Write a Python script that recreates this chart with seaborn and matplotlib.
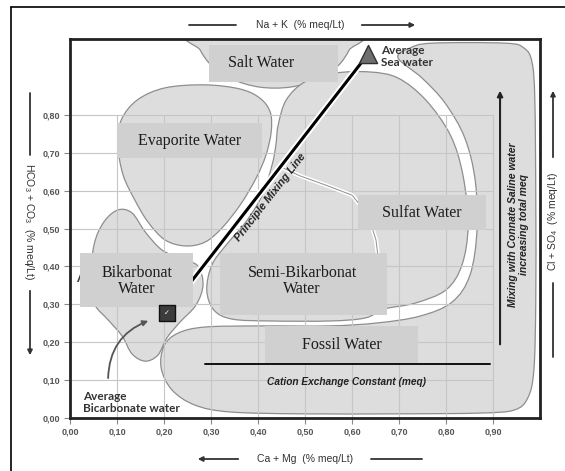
import numpy as np
import pandas as pd
import matplotlib
matplotlib.use("Agg")
import matplotlib.pyplot as plt
import seaborn as sns
from matplotlib.path import Path
from matplotlib.patches import PathPatch, Rectangle
from matplotlib.lines import Line2D

# axis ticks (fraction of meq)
x_ticks = [0.0, 0.1, 0.2, 0.3, 0.4, 0.5, 0.6, 0.7, 0.8, 0.9]
y_ticks = [0.0, 0.1, 0.2, 0.3, 0.4, 0.5, 0.6, 0.7, 0.8]
x_tick_labels = ["0,00", "0,10", "0,20", "0,30", "0,40", "0,50", "0,60", "0,70", "0,80", "0,90"]
y_tick_labels = ["0,00", "0,10", "0,20", "0,30", "0,40", "0,50", "0,60", "0,70", "0,80"]

# outlines of the water type fields
salt_x = [0.268, 0.277, 0.302, 0.345, 0.404, 0.468, 0.528, 0.570, 0.594, 0.604]
salt_y = [1.011, 0.971, 0.929, 0.894, 0.873, 0.873, 0.894, 0.929, 0.971, 1.011]

evap_x = [0.102, 0.109, 0.143, 0.202, 0.287, 0.362, 0.404, 0.426, 0.428, 0.417,
          0.396, 0.362, 0.323, 0.287, 0.245, 0.202, 0.166, 0.138, 0.113]
evap_y = [0.720, 0.786, 0.839, 0.871, 0.879, 0.868, 0.844, 0.807, 0.755, 0.694,
          0.633, 0.562, 0.501, 0.464, 0.454, 0.470, 0.517, 0.575, 0.641]

central_x = [0.443, 0.460, 0.500, 0.564, 0.638, 0.698, 0.757, 0.809, 0.836, 0.847,
             0.834, 0.800, 0.734, 0.670, 0.628, 0.553, 0.426, 0.345, 0.306, 0.291,
             0.302, 0.332, 0.374, 0.409, 0.430, 0.438]
central_y = [0.773, 0.839, 0.887, 0.910, 0.913, 0.897, 0.839, 0.747, 0.641, 0.509,
             0.404, 0.338, 0.303, 0.288, 0.264, 0.256, 0.256, 0.261, 0.285, 0.338,
             0.404, 0.456, 0.517, 0.588, 0.668, 0.720]

bicarb_x = [0.043, 0.051, 0.072, 0.102, 0.132, 0.160, 0.196, 0.238, 0.272, 0.283,
            0.268, 0.234, 0.206, 0.187, 0.160, 0.132, 0.111, 0.081, 0.053]
bicarb_y = [0.351, 0.456, 0.517, 0.549, 0.541, 0.491, 0.443, 0.420, 0.401, 0.351,
            0.298, 0.253, 0.211, 0.166, 0.150, 0.169, 0.216, 0.259, 0.298]

connate_x = [0.698, 0.723, 0.770, 0.926, 0.966, 0.983, 0.989, 0.991, 0.991, 0.987,
             0.974, 0.945, 0.872, 0.702, 0.489, 0.340, 0.266, 0.217, 0.194, 0.200,
             0.230, 0.287, 0.404, 0.553, 0.655, 0.745, 0.813, 0.851, 0.866, 0.862,
             0.840, 0.798, 0.749]
connate_y = [0.950, 0.976, 0.989, 0.989, 0.976, 0.939, 0.839, 0.575, 0.311, 0.127,
             0.053, 0.021, 0.013, 0.011, 0.011, 0.016, 0.034, 0.074, 0.132, 0.190,
             0.224, 0.240, 0.243, 0.243, 0.251, 0.269, 0.306, 0.377, 0.496, 0.628,
             0.739, 0.831, 0.897]

# partial divide between sulfat and semi-bikarbonat fields
sep_x = [0.453, 0.489, 0.543, 0.600, 0.634, 0.651, 0.655]
sep_y = [0.660, 0.639, 0.615, 0.588, 0.536, 0.470, 0.430]

# principle mixing line: average bicarbonate water -> average sea water
mix_x = [0.206, 0.634]
mix_y = [0.277, 0.960]

# cation exchange constant line
cec_x = [0.287, 0.894]
cec_y = [0.142, 0.142]

# label boxes
box_labels = ["Salt Water", "Evaporite Water", "Sulfat Water", "Bikarbonat\nWater",
              "Semi-Bikarbonat\nWater", "Fossil Water"]
box_x0 = [0.296, 0.100, 0.613, 0.021, 0.319, 0.415]
box_x1 = [0.570, 0.409, 0.885, 0.262, 0.674, 0.740]
box_y0 = [0.887, 0.686, 0.496, 0.293, 0.272, 0.145]
box_y1 = [0.984, 0.778, 0.588, 0.435, 0.435, 0.243]
label_x = [0.406, 0.255, 0.749, 0.143, 0.494, 0.579]
label_y = [0.937, 0.732, 0.541, 0.361, 0.361, 0.193]


def smooth_outline(xs, ys):
    # closed curve through the points, drawn by matplotlib as cubic beziers
    p = np.column_stack([xs, ys])
    n = len(p)
    verts = [p[0]]
    codes = [Path.MOVETO]
    for i in range(n):
        p0, p1, p2, p3 = p[i - 1], p[i], p[(i + 1) % n], p[(i + 2) % n]
        verts += [p1 + (p2 - p0) / 6, p2 - (p3 - p1) / 6, p2]
        codes += [Path.CURVE4] * 3
    verts.append(p[0])
    codes.append(Path.CLOSEPOLY)
    return Path(verts, codes)


sns.set_theme(style="white")
plt.rcParams["font.family"] = ["Liberation Sans", "DejaVu Sans"]
plt.rcParams["mathtext.fontset"] = "custom"
plt.rcParams["mathtext.rm"] = "Liberation Sans"

W, H = 565, 471
fig = plt.figure(figsize=(W / 100, H / 100), dpi=100)
ax = fig.add_axes([70 / W, 53 / H, 470 / W, 379 / H])
ax.set_xlim(0, 1)
ax.set_ylim(0, 1)

fill = "#dddddd"
edge = "#8e8e8e"
for xs, ys in [(salt_x, salt_y), (evap_x, evap_y), (central_x, central_y),
               (bicarb_x, bicarb_y), (connate_x, connate_y)]:
    ax.add_patch(PathPatch(smooth_outline(xs, ys), facecolor=fill, edgecolor=edge,
                           lw=0.9, zorder=1))

# grid over the fields
ax.vlines(x_ticks[1:], 0, 0.8, color="#c6c6c6", lw=0.8, zorder=1.5)
ax.hlines(y_ticks[1:], 0, 0.9, color="#c6c6c6", lw=0.8, zorder=1.5)

ax.plot(sep_x, sep_y, color="white", lw=3, zorder=1.6, solid_capstyle="round")
ax.plot(sep_x, sep_y, color=edge, lw=0.7, zorder=1.7)

# principle mixing line
sns.lineplot(x=mix_x, y=mix_y, ax=ax, color="white", lw=5, zorder=2.4)
sns.lineplot(x=mix_x, y=mix_y, ax=ax, color="black", lw=2.2, zorder=2.5)

ax.text(0.013, 0.37, "A", fontfamily="Lato", fontweight="bold", fontsize=10,
        color="#444", ha="left", va="center", zorder=2)

# label boxes
for name, x0, x1, y0, y1, tx, ty in zip(box_labels, box_x0, box_x1, box_y0, box_y1,
                                        label_x, label_y):
    ax.add_patch(Rectangle((x0, y0), x1 - x0, y1 - y0, facecolor="#d0d0d0",
                           edgecolor="none", zorder=3))
    ax.text(tx, ty, name, fontfamily="Liberation Serif", fontsize=11.5, color="#1c1c1c",
            ha="center", va="center", linespacing=1.05, zorder=4)

# average points
sns.scatterplot(x=[mix_x[1]], y=[mix_y[1]], marker="^", s=170, color="#6e6e6e",
                edgecolor="#303030", linewidth=1, ax=ax, zorder=6)
sns.scatterplot(x=[mix_x[0]], y=[mix_y[0]], marker="s", s=120, color="#3c3c3c",
                edgecolor="#111111", linewidth=1, ax=ax, zorder=6)
ax.text(mix_x[0], mix_y[0], "\u2713", color="white", fontfamily="DejaVu Sans",
        fontsize=5, ha="center", va="center", zorder=7)

ax.text(0.662, 0.955, "Average\nSea water", fontfamily="Lato", fontweight="bold",
        fontsize=8.5, color="#333", ha="left", va="center", linespacing=1.1, zorder=5)
ax.text(0.028, 0.042, "Average\nBicarbonate water", fontfamily="Lato", fontweight="bold",
        fontsize=8.5, color="#333", ha="left", va="center", linespacing=1.1, zorder=5)
ax.annotate("", xy=(0.172, 0.259), xytext=(0.081, 0.098),
            arrowprops=dict(arrowstyle="-|>", connectionstyle="arc3,rad=-0.35",
                            color="#555", lw=1.3, mutation_scale=8), zorder=5)

ax.text(0.426, 0.583, "Principle Mixing Line", rotation=52, fontsize=7.8,
        fontweight="bold", fontstyle="italic", color="#222", ha="center", va="center",
        zorder=5)

# cation exchange line
ax.plot(cec_x, cec_y, color="#111", lw=1.4, zorder=4)
ax.text(0.589, 0.095, "Cation Exchange Constant (meq)", fontsize=7.3, fontweight="bold",
        fontstyle="italic", color="#222", ha="center", va="center", zorder=4)

# mixing with connate water arrow
ax.annotate("", xy=(0.915, 0.871), xytext=(0.915, 0.187),
            arrowprops=dict(arrowstyle="-|>", color="#222", lw=1.5, mutation_scale=8),
            zorder=5)
ax.text(0.955, 0.51, "Mixing with Connate Saline water\nincreasing total meq",
        rotation=90, fontsize=7.5, fontweight="bold", fontstyle="italic", color="#222",
        ha="center", va="center", linespacing=1.1, zorder=5)

# ticks and frame
ax.set_xticks(x_ticks)
ax.set_xticklabels(x_tick_labels)
ax.set_yticks(y_ticks)
ax.set_yticklabels(y_tick_labels)
ax.tick_params(axis="both", direction="out", length=4, width=0.8, color="#888",
               labelsize=6.5, labelcolor="#555", pad=3, left=True, bottom=True)
for lab in ax.get_xticklabels() + ax.get_yticklabels():
    lab.set_fontweight("bold")
for sp in ax.spines.values():
    sp.set_visible(True)
    sp.set_color("#222")
    sp.set_linewidth(2)
ax.set_xlabel("")
ax.set_ylabel("")


def fx(px):
    return px / W


def fy(py):
    return 1 - py / H


def fig_line(x0, y0, x1, y1):
    fig.add_artist(Line2D([fx(x0), fx(x1)], [fy(y0), fy(y1)], transform=fig.transFigure,
                          color="#333", lw=1.3))


def fig_arrow(x0, y0, x1, y1):
    ax.annotate("", xy=(fx(x1), fy(y1)), xytext=(fx(x0), fy(y0)),
                xycoords="figure fraction", textcoords="figure fraction",
                arrowprops=dict(arrowstyle="-|>", color="#333", lw=1.3, mutation_scale=7),
                annotation_clip=False)


# outer frame
fig.add_artist(Line2D([fx(11), fx(565)], [fy(7), fy(7)], transform=fig.transFigure,
                      color="black", lw=1.2))
fig.add_artist(Line2D([fx(11), fx(11)], [fy(7), fy(471)], transform=fig.transFigure,
                      color="black", lw=1.2))

# top axis title
fig_line(189, 25, 236, 25)
fig.text(fx(300), fy(25), "Na + K  (% meq/Lt)", fontsize=7.5, color="#333",
         ha="center", va="center")
fig_arrow(359, 25, 418, 25)

# bottom axis title
fig_arrow(241, 459, 195, 459)
fig.text(fx(305), fy(459), "Ca + Mg  (% meq/Lt)", fontsize=7.5, color="#333",
         ha="center", va="center")
fig_line(371, 459, 422, 459)

# left axis title
fig_line(30, 93, 30, 155)
fig.text(fx(29), fy(222), r"HCO$_3$ + CO$_3$  (% meq/Lt)", fontsize=7.5, color="#333",
         rotation=-90, ha="center", va="center")
fig_arrow(30, 288, 30, 358)

# right axis title
fig_arrow(553, 160, 553, 88)
fig.text(fx(553), fy(222), r"Cl + SO$_4$  (% meq/Lt)", fontsize=7.5, color="#333",
         rotation=90, ha="center", va="center")
fig_line(553, 283, 553, 357)

fig.savefig("out.png", dpi=100)
